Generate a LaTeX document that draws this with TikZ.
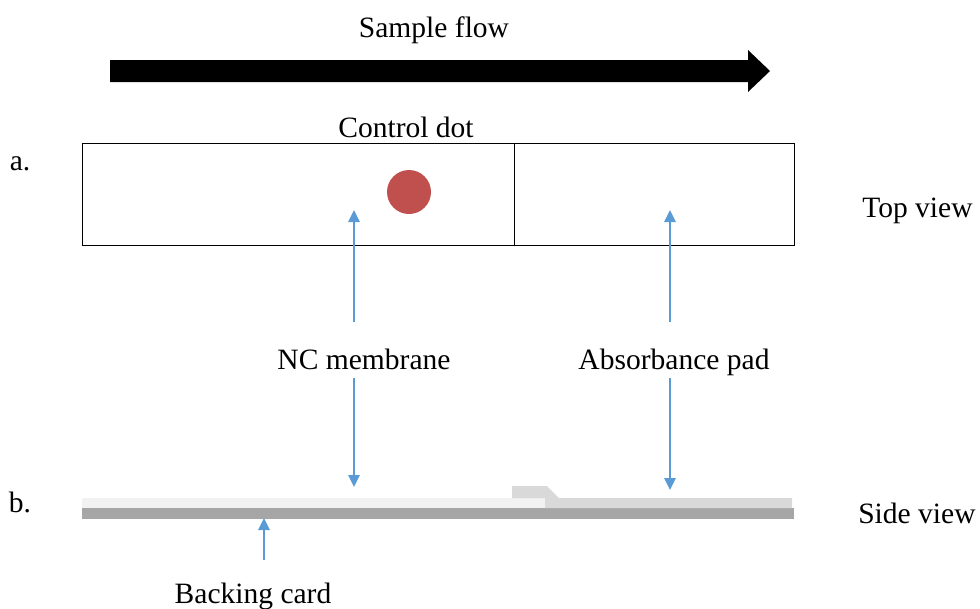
\documentclass[tikz,border=0pt]{standalone}
\usepackage{fontspec}
\setmainfont{Liberation Serif}
\usetikzlibrary{arrows.meta}

\definecolor{dotRed}{HTML}{C0504D}
\definecolor{pointerBlue}{HTML}{5B9BD5}
\definecolor{cardGray}{HTML}{A6A6A6}
\definecolor{padGray}{HTML}{D9D9D9}
\definecolor{ncGray}{HTML}{F2F2F2}

\begin{document}
\begin{tikzpicture}
[x=0.025cm,y=-0.025cm,
  labelDecorate/.style={anchor=base,inner sep=0pt,font=\fontsize{21}{25}\selectfont},
  stripDecorate/.style={line width=0.7pt,draw=black},
  pointerDecorate/.style={-{Triangle[length=0.3cm,width=0.28cm]},line width=1.5pt,draw=pointerBlue}]
\useasboundingbox (0,0) rectangle (980,608);
%% flow direction
\node (flow) at (434,37) [labelDecorate] {Sample flow};
\fill (110,60) -- (748,60) -- (748,50) -- (770,71) -- (748,92) -- (748,82) -- (110,82) -- cycle;
%% a. top view of the strip
\node (a) at (20,170) [labelDecorate] {a.};
\node (ctrl) at (406,137) [labelDecorate] {Control dot};
\node (strip) at (82,143) [stripDecorate,anchor=north west,minimum width=712*0.025cm,minimum height=102*0.025cm,inner sep=0pt] {};
\draw[stripDecorate] (514,143) -- (514,245);
\node (dot) at (409,192) [circle,fill=dotRed,minimum size=44*0.025cm,inner sep=0pt] {};
\node (top) at (862,217) [labelDecorate,anchor=base west] {Top view};
%% b. side view of the strip
\node (b) at (20,512) [labelDecorate] {b.};
\fill[cardGray] (82,508) rectangle (794,519);
\fill[ncGray] (82,498) rectangle (545,508);
\fill[padGray] (512,486) -- (547,486) -- (559,498) -- (792,498) -- (792,508)
  -- (545,508) -- (545,498) -- (512,498) -- cycle;
\node (side) at (858,523) [labelDecorate,anchor=base west] {Side view};
%% labels and pointers
\node (nc) at (364,369) [labelDecorate] {NC membrane};
\node (pad) at (674,369) [labelDecorate] {Absorbance pad};
\node (card) at (253,603) [labelDecorate] {Backing card};
\foreach \name/\x/\ya/\yb in {
  ncUp/354/322/210, padUp/670/322/210, ncDown/354/378/487, padDown/670/378/490, cardUp/264/560/518}
{
  \coordinate (\name Tail) at (\x,\ya);
  \coordinate (\name Tip) at (\x,\yb);
  \draw[pointerDecorate] (\name Tail) -- (\name Tip);
}
\end{tikzpicture}
\end{document}
